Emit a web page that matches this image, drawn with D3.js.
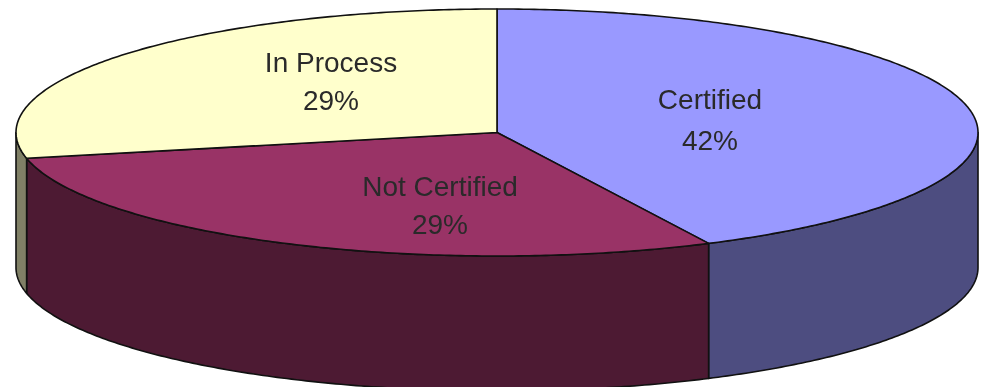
<!DOCTYPE html>
<html><head><meta charset="utf-8">
<script src="https://cdn.jsdelivr.net/npm/d3@7"></script>
<style>html,body{margin:0;padding:0;background:#fff}svg{display:block;filter:blur(0.45px)}</style>
</head><body><svg id="c" width="984" height="387"></svg>
<script>
const categories = ["Certified", "Not Certified", "In Process"];
const shares = [42.75, 28.9, 28.35];
const percentLabels = ["42%", "29%", "29%"];
const topColors = ["#9999ff", "#993366", "#ffffcc"];
const sideColors = ["#4d4d80", "#4d1a33", "#808066"];

const W = 984, H = 387, depth = 135;
const x = d3.scaleLinear([-1, 1], [16, 978]);
const y = d3.scaleLinear([-1, 1], [9, 256]);
const labelAnchors = [[710, 99, 140], [440, 186, 224], [331, 62, 100]];

const svg = d3.select("#c");
const slices = d3.pie().sort(null)(shares);
const pt = (a, dy = 0) => [x(Math.sin(a)), y(-Math.cos(a)) + dy];
const line = d3.line();
const samples = (a0, a1, dy = 0) => {
  const n = Math.max(2, Math.ceil((a1 - a0) * 90));
  return d3.range(n + 1).map(i => pt(a0 + (a1 - a0) * i / n, dy));
};
const stroke = "#111", sw = 1.6;

// walls: only the front half of the rim (90deg .. 270deg) is visible
const g = svg.append("g");
slices.forEach((s, i) => {
  const a0 = Math.max(s.startAngle, Math.PI / 2), a1 = Math.min(s.endAngle, 3 * Math.PI / 2);
  if (a1 <= a0) return;
  const top = samples(a0, a1), bottom = samples(a0, a1, depth).reverse();
  g.append("path").attr("d", line(top.concat(bottom)) + "Z")
    .attr("fill", sideColors[i]).attr("stroke", stroke).attr("stroke-width", sw).attr("stroke-linejoin", "round");
});
// top faces
slices.forEach((s, i) => {
  const c = [x(0), y(0)];
  g.append("path").attr("d", line([c].concat(samples(s.startAngle, s.endAngle))) + "Z")
    .attr("fill", topColors[i]).attr("stroke", stroke).attr("stroke-width", sw).attr("stroke-linejoin", "round");
});
// labels
categories.forEach((name, i) => {
  const t = svg.append("text").attr("text-anchor", "middle")
    .attr("font-family", "'Liberation Sans', Arial, sans-serif").attr("font-size", 28).attr("fill", "#2a2a2a");
  t.append("tspan").attr("x", labelAnchors[i][0]).attr("y", labelAnchors[i][1]).attr("dy", "0.35em").text(name);
  t.append("tspan").attr("x", labelAnchors[i][0]).attr("y", labelAnchors[i][2]).attr("dy", "0.35em").text(percentLabels[i]);
});
</script></body></html>
